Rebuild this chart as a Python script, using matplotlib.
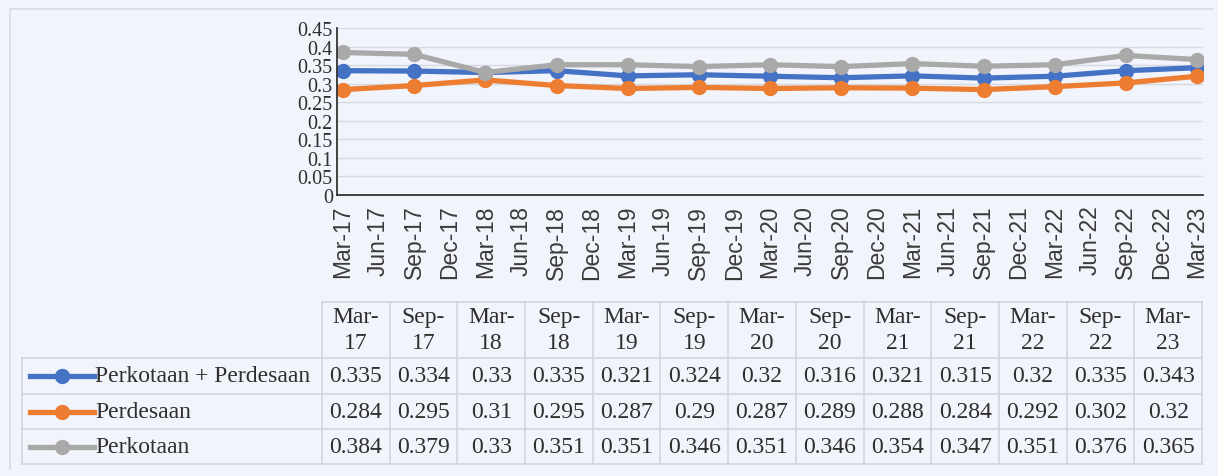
import matplotlib
matplotlib.use("Agg")
import matplotlib.pyplot as plt
from matplotlib.lines import Line2D


QUARTERS = [
    "Mar-17", "Jun-17", "Sep-17", "Dec-17", "Mar-18", "Jun-18", "Sep-18",
    "Dec-18", "Mar-19", "Jun-19", "Sep-19", "Dec-19", "Mar-20", "Jun-20",
    "Sep-20", "Dec-20", "Mar-21", "Jun-21", "Sep-21", "Dec-21", "Mar-22",
    "Jun-22", "Sep-22", "Dec-22", "Mar-23",
]
PERIODS = [
    "Mar-17", "Sep-17", "Mar-18", "Sep-18", "Mar-19", "Sep-19", "Mar-20",
    "Sep-20", "Mar-21", "Sep-21", "Mar-22", "Sep-22", "Mar-23",
]

TOTAL = [0.335, 0.334, 0.33, 0.335, 0.321, 0.324, 0.32, 0.316, 0.321, 0.315, 0.32, 0.335, 0.343]
RURAL = [0.284, 0.295, 0.31, 0.295, 0.287, 0.29, 0.287, 0.289, 0.288, 0.284, 0.292, 0.302, 0.32]
URBAN = [0.384, 0.379, 0.33, 0.351, 0.351, 0.346, 0.351, 0.346, 0.354, 0.347, 0.351, 0.376, 0.365]

SERIES = [
    ("Perkotaan + Perdesaan", TOTAL, "#4472C4"),
    ("Perdesaan", RURAL, "#ED7D31"),
    ("Perkotaan", URBAN, "#A9A9A9"),
]

W, H = 1218, 477
BG = "#f2f4fb"
GRID = "#d6d9e0"
TEXT = "#2e2e2e"
SERIF = "Liberation Serif"
SANS = "Liberation Sans"


def fx(px):
    return px / W


def fy(py):
    return 1 - py / H


def table_text(value):
    return f"{value:g}"


fig = plt.figure(figsize=(W / 100, H / 100), dpi=100, facecolor=BG)

# overlay in pixel coordinates for frame + data table
over = fig.add_axes([0, 0, 1, 1], zorder=0)
over.set_xlim(0, W)
over.set_ylim(H, 0)
over.axis("off")

# chart frame
over.plot([10, 10, 1212], [470, 10, 10], color="#d8dbe2", lw=1.2)

# line chart
left, right, top, bottom = 337, 1203, 29, 196
ax = fig.add_axes([fx(left), fy(bottom), fx(right - left), (bottom - top) / H], zorder=2)
ax.set_facecolor("none")

positions = [QUARTERS.index(p) for p in PERIODS]
for name, values, color in SERIES:
    ax.plot(positions, values, color=color, lw=3.8, marker="o", markersize=10,
            solid_capstyle="round", label=name)

ax.set_ylim(0, 0.45)
ax.set_yticks([i * 0.05 for i in range(10)])
ax.set_yticklabels(["0", "0.05", "0.1", "0.15", "0.2", "0.25", "0.3", "0.35", "0.4", "0.45"],
                   fontfamily=SERIF, fontsize=14.5, color=TEXT)
unit = 24 / (1197 - 343)
ax.set_xlim(-(343 - left) * unit, 24 + (right - 1197) * unit)
ax.set_xticks(range(len(QUARTERS)))
ax.set_xticklabels(QUARTERS, rotation=90, fontfamily=SANS, fontsize=16.5, color="#3a3a3a")
ax.tick_params(axis="both", length=0)
ax.tick_params(axis="y", pad=3)
ax.tick_params(axis="x", pad=7)
ax.grid(True, axis="y", color=GRID, lw=1)
ax.set_axisbelow(True)
for side in ["top", "right"]:
    ax.spines[side].set_visible(False)
ax.spines["left"].set_color("#333333")
ax.spines["bottom"].set_color("#333333")
ax.spines["left"].set_linewidth(1.3)
ax.spines["bottom"].set_linewidth(1.3)

# data table
tab_left, col_left, col_right = 22, 322, 1202
row_edges = [303, 359, 395, 430, 465]
col_w = (col_right - col_left) / len(PERIODS)
line_kw = dict(color="#cfd3db", lw=1.1)

over.plot([col_left, col_right], [row_edges[0]] * 2, **line_kw)
for yy in row_edges[1:]:
    over.plot([tab_left, col_right], [yy, yy], **line_kw)
over.plot([tab_left, tab_left], [row_edges[1], row_edges[-1]], **line_kw)
for i in range(len(PERIODS) + 1):
    xx = col_left + i * col_w
    over.plot([xx, xx], [row_edges[0], row_edges[-1]], **line_kw)

for i, period in enumerate(PERIODS):
    cx = col_left + (i + 0.5) * col_w
    month, year = period.split("-")
    over.text(cx, 318, month + "-", ha="center", va="center",
              fontfamily=SERIF, fontsize=17, color=TEXT)
    over.text(cx, 344, year, ha="center", va="center",
              fontfamily=SERIF, fontsize=17, color=TEXT)

for r, (name, values, color) in enumerate(SERIES):
    cy = (row_edges[r + 1] + row_edges[r + 2]) / 2
    over.add_line(Line2D([30, 94], [cy, cy], color=color, lw=3.8))
    over.plot([62], [cy], marker="o", markersize=10, color=color)
    over.text(95, cy, name, ha="left", va="center",
              fontfamily=SERIF, fontsize=17, color=TEXT)
    for i, v in enumerate(values):
        cx = col_left + (i + 0.5) * col_w
        over.text(cx, cy, table_text(v), ha="center", va="center",
                  fontfamily=SERIF, fontsize=17, color=TEXT)

fig.savefig("out.png", dpi=100, facecolor=BG)
